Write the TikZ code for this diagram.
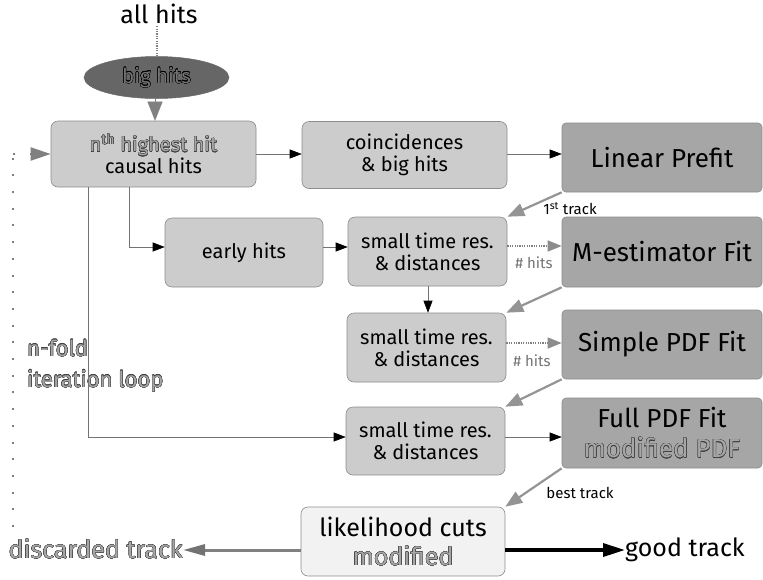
\documentclass[tikz,border=0pt]{standalone}
\usepackage{fontspec}
\setmainfont{Fira Sans}
\usepackage[copies]{contour}
\contourlength{0.3pt}
\contournumber{16}
\usetikzlibrary{arrows.meta,calc,shapes.geometric}

% grey letters with a dark rim
\newcommand\rimtext[1]{\contour{black!75}{\textcolor{black!35}{#1}}}

\definecolor{lightfill}{gray}{0.80}
\definecolor{darkfill}{gray}{0.65}
\definecolor{palefill}{gray}{0.95}
\definecolor{ovalfill}{gray}{0.40}
\definecolor{rim}{gray}{0.55}

\begin{document}
\begin{tikzpicture}[x=1pt,y=-1pt,
  lightbox/.style={draw=rim, fill=lightfill, rounded corners=7pt, line width=0.6pt,
    align=center, inner sep=0pt, font=\fontsize{20}{22}\selectfont},
  darkbox/.style={draw=rim, fill=darkfill, rounded corners=4pt, line width=0.6pt,
    align=center, inner sep=0pt, font=\fontsize{26}{30}\selectfont},
  palebox/.style={draw=rim, fill=palefill, rounded corners=7pt, line width=0.6pt,
    align=center, inner sep=0pt, font=\fontsize{25}{29}\selectfont},
  thinarrow/.style={draw=black!55, line width=0.6pt,
    -{Triangle[length=12pt,width=9pt,color=black]}},
  greyarrow/.style={draw=black!42, line width=2.2pt,
    -{Triangle[length=17pt,width=13pt,color=black!42]}},
  dotarrow/.style={draw=black!50, line width=1.4pt, dash pattern=on 1.2pt off 1.2pt,
    -{Triangle[length=14pt,width=11pt,color=black!45]}},
  loopline/.style={draw=black!50, line width=2pt, dash pattern=on 2pt off 14.7pt},
  smalllabel/.style={inner sep=0pt, font=\fontsize{15}{17}\selectfont},
  biglabel/.style={inner sep=0pt, font=\fontsize{25}{29}\selectfont},
]
\useasboundingbox (0,0) rectangle (763,579);

% top input and the big-hit selection
\node[biglabel] (all) at (159,14) {all hits};
\node[ellipse, fill=ovalfill, draw=black!60, line width=0.5pt, minimum width=145pt,
  minimum height=42pt, inner sep=0pt, font=\fontsize{20.5}{22}\selectfont]
  (big) at (156.5,77.5) {\contour{black}{\textcolor{black!55}{big hits}}};

% left column and the chain of hit selections
\node[lightbox, minimum width=205pt, minimum height=66pt] (nth) at (153.5,154)
  {\rimtext{n\textsuperscript{th} highest hit}\\causal hits};
\node[lightbox, minimum width=205pt, minimum height=67pt] (coinc) at (404.5,155)
  {coincidences\\\&~big hits};
\node[lightbox, minimum width=158pt, minimum height=69pt] (early) at (244,252.5)
  {early hits};
\node[lightbox, minimum width=159pt, minimum height=69pt] (st1) at (427.5,251.5)
  {small time res.\\\&~distances};
\node[lightbox, minimum width=159pt, minimum height=69pt] (st2) at (426.5,347.5)
  {small time res.\\\&~distances};
\node[lightbox, minimum width=159pt, minimum height=68pt] (st3) at (425.5,441)
  {small time res.\\\&~distances};

% fitting stages
\node[darkbox, minimum width=200pt, minimum height=69pt] (lin) at (662,157.5)
  {Linear Prefit};
\node[darkbox, minimum width=200pt, minimum height=70pt] (mest) at (662,252)
  {M-estimator Fit};
\node[darkbox, minimum width=200pt, minimum height=69pt] (simple) at (662,344.5)
  {Simple PDF Fit};
\node[darkbox, minimum width=200pt, minimum height=70pt] (full) at (662,433)
  {Full PDF Fit\\\rimtext{modified PDF}};

% final decision
\node[palebox, minimum width=204pt, minimum height=69pt] (lik) at (403,541.5)
  {likelihood cuts\\\rimtext{modified}};
\node[biglabel, anchor=east] (bad) at (183,549) {\rimtext{discarded track}};
\node[biglabel, anchor=west] (good) at (625,550) {good track};

% iteration loop
\node[inner sep=0pt, anchor=west, align=left, font=\fontsize{22}{31}\selectfont]
  (loop) at (27,366) {\rimtext{n-fold}\\\rimtext{iteration loop}};
\coordinate (loopEnd) at (13,527);
\coordinate (loopTop) at (13,154);
\draw[loopline] (loopEnd) -- (loopTop);
\draw[loopline, -{Triangle[length=20pt,width=13pt,color=black!50]}]
  (loopTop) -- (nth.west);

% connectors
\draw[draw=black!50, line width=1.4pt, dash pattern=on 1.2pt off 1.2pt]
  (all.south -| 157,0) ++(0,2) -- (big.north -| 157,0);
\draw[draw=black!50, line width=0.2pt, -{Triangle[length=19pt,width=15pt,color=black!50]}]
  (big.south -| 155,0) -- (nth.north -| 155,0);
\draw[thinarrow] (nth.east) -- (coinc.west |- nth.east);
\draw[thinarrow] (coinc.east |- 0,154) -- (lin.west |- 0,154);
\draw[thinarrow] (nth.south -| 129,0) |- (early.west |- 0,247);
\draw[thinarrow] (early.east |- 0,247) -- (st1.west |- 0,247);
\draw[thinarrow] (nth.south -| 88,0) |- (st3.west |- 0,437);
\draw[thinarrow] (st1.south -| 428,0) -- (st2.north -| 428,0);
\draw[thinarrow] (st3.east |- 0,437) -- (full.west |- 0,437);
\draw[dotarrow] (st1.east |- 0,246) -- (mest.west |- 0,246);
\draw[dotarrow] (st2.east |- 0,343) -- (simple.west |- 0,343);
\draw[greyarrow] (lin.south west) -- (st1.north east);
\draw[greyarrow] (mest.south west) -- (st2.north east);
\draw[greyarrow] (simple.south west) -- (st3.north east);
\draw[greyarrow] (full.south west) -- (lik.north east);
\draw[draw=black!50, line width=3pt, -{Triangle[length=22pt,width=11pt,color=black!55]}]
  (lik.west |- 0,550) -- (bad.east |- 0,550);
\draw[draw=black, line width=3.5pt, -{Triangle[length=22pt,width=13pt,color=black]}]
  (lik.east |- 0,550) -- (good.west |- 0,550);

% connector labels
\node[smalllabel] (t1) at (570,209) {1\textsuperscript{st} track};
\node[smalllabel, text=black!55] (h1) at (534,263) {\# hits};
\node[smalllabel, text=black!55] (h2) at (532,361) {\# hits};
\node[smalllabel] (bt) at (580,493) {best track};
\end{tikzpicture}
\end{document}
